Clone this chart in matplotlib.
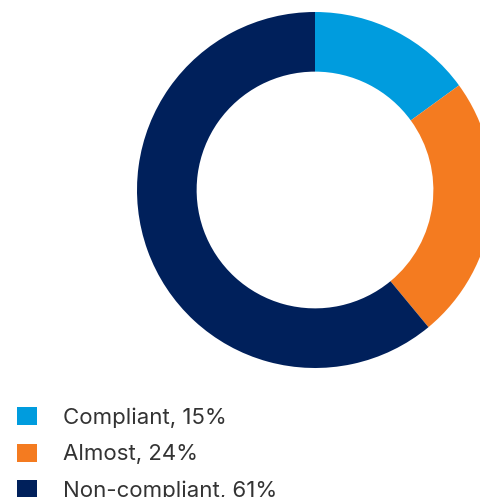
import matplotlib
matplotlib.use('Agg')
from matplotlib import pyplot as plt

# Compliance shares
labels = ['Compliant', 'Almost', 'Non-compliant']
values = [15, 24, 61]
colors = ['#009CDE', '#F47B20', '#00205B']

W, H = 481, 497
fig = plt.figure(figsize=(W / 100., H / 100.), dpi=100)

# donut axes: centre (315, 190) px, radius 178 px
cx, cy, r = 315, 190, 178
ax = fig.add_axes([(cx - r) / W, (H - cy - r) / H, 2 * r / W, 2 * r / H])
wedges, _ = ax.pie(values, colors=colors, startangle=90, counterclock=False,
                   radius=1.0, wedgeprops=dict(width=0.335, linewidth=0))
ax.set_xlim(-1, 1)
ax.set_ylim(-1, 1)
ax.set_aspect('equal')
ax.axis('off')

leg_labels = ['{}, {}%'.format(l, v) for l, v in zip(labels, values)]
fig.legend(wedges, leg_labels, loc='upper left',
           bbox_to_anchor=(10 / W, 1 - 400 / H), frameon=False,
           prop=dict(family='Inter', size=16), labelcolor='#333333',
           handlelength=0.9, handleheight=0.9, handletextpad=1.2,
           labelspacing=0.72, borderpad=0, borderaxespad=0.3)

fig.savefig('out.png', dpi=100)
